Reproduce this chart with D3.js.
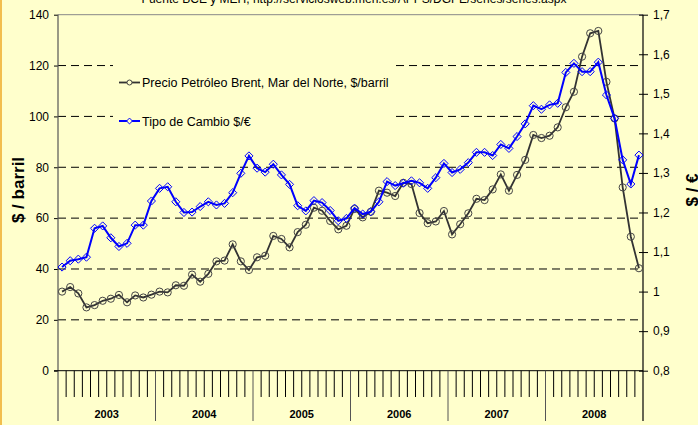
<!DOCTYPE html>
<html>
<head>
<meta charset="utf-8">
<script src="https://cdn.jsdelivr.net/npm/d3@7"></script>
<style>
  html, body { margin: 0; padding: 0; background: #FFFFCC; }
  svg { display: block; font-family: "Liberation Sans", Arial, sans-serif; }
</style>
</head>
<body>
<div id="chart"></div>
<script>
// Years on the category axis, 12 months each
const years = ['2003', '2004', '2005', '2006', '2007', '2008'];
const monthsPerYear = 12;

// Brent crude, $/barrel, monthly Jan 2003 - Dec 2008
const brent = [
  31.1, 32.9, 30.4, 24.9, 25.8, 27.5, 28.3, 29.8, 26.9, 29.6, 28.8, 29.9,
  31.1, 30.8, 33.6, 33.4, 37.8, 35.0, 38.1, 43.0, 43.3, 49.7, 43.0, 39.6,
  44.6, 45.2, 53.0, 51.8, 48.5, 54.5, 57.4, 64.1, 62.9, 58.9, 55.6, 57.0,
  63.6, 60.3, 62.5, 70.8, 70.0, 68.7, 73.9, 73.4, 62.0, 58.0, 58.7, 62.8,
  53.6, 57.6, 61.9, 67.6, 67.1, 71.3, 77.2, 70.8, 77.0, 82.9, 92.7, 91.5,
  92.4, 95.7, 103.6, 109.7, 123.5, 132.7, 133.6, 113.6, 99.2, 72.1, 52.7, 40.3
];

// Exchange rate $/€, monthly Jan 2003 - Dec 2008
const usdEur = [
  1.062, 1.078, 1.082, 1.087, 1.160, 1.166, 1.136, 1.114, 1.122, 1.168, 1.168, 1.229,
  1.261, 1.265, 1.227, 1.200, 1.201, 1.215, 1.227, 1.219, 1.223, 1.250, 1.299, 1.343,
  1.312, 1.302, 1.322, 1.295, 1.271, 1.217, 1.204, 1.230, 1.225, 1.205, 1.179, 1.185,
  1.211, 1.196, 1.202, 1.227, 1.278, 1.268, 1.274, 1.280, 1.275, 1.261, 1.288, 1.324,
  1.301, 1.309, 1.326, 1.352, 1.352, 1.344, 1.372, 1.362, 1.392, 1.424, 1.470, 1.461,
  1.472, 1.476, 1.554, 1.577, 1.556, 1.556, 1.580, 1.497, 1.438, 1.333, 1.272, 1.345
];

const leftTicks = [0, 20, 40, 60, 80, 100, 120, 140];
const rightTicks = [0.8, 0.9, 1.0, 1.1, 1.2, 1.3, 1.4, 1.5, 1.6, 1.7];
const gridValues = [20, 40, 60, 80, 100, 120];

const seriesNames = ['Precio Petróleo Brent, Mar del Norte, $/barril', 'Tipo de Cambio $/€'];
const sourceText = 'Fuente BCE y MEH, http://serviciosweb.meh.es/APPS/DGPE/series/series.aspx';

const months = [];
years.forEach(y => { for (let m = 1; m <= monthsPerYear; m++) months.push(y + '-' + m); });

const width = 698, height = 425;
const plot = { left: 58, right: 643, top: 14.7, bottom: 370.7 };

const svg = d3.select('#chart').append('svg')
  .attr('width', width)
  .attr('height', height);

svg.append('rect')
  .attr('width', width).attr('height', height)
  .attr('fill', '#FFFFCC');
svg.append('rect')
  .attr('x', 0).attr('y', 0).attr('width', 2).attr('height', height)
  .attr('fill', '#F2BE4E');

const x = d3.scaleBand()
  .domain(months)
  .range([plot.left, plot.right]);
const xYear = d3.scaleBand()
  .domain(years)
  .range([plot.left, plot.right]);
const y = d3.scaleLinear()
  .domain([0, 140])
  .range([plot.bottom, plot.top]);
const y2 = d3.scaleLinear()
  .domain([0.8, 1.7])
  .range([plot.bottom, plot.top]);

// source line, clipped at the top
svg.append('text')
  .attr('x', 354).attr('y', 3)
  .attr('text-anchor', 'middle')
  .attr('font-size', 12)
  .attr('fill', '#000')
  .text(sourceText);

// gridlines
svg.append('g')
  .selectAll('line')
  .data(gridValues)
  .join('line')
  .attr('x1', plot.left).attr('x2', plot.right)
  .attr('y1', d => y(d)).attr('y2', d => y(d))
  .attr('stroke', '#000')
  .attr('stroke-width', 1)
  .attr('stroke-dasharray', '8 5');
svg.append('line')
  .attr('x1', plot.left).attr('x2', plot.right)
  .attr('y1', y(140)).attr('y2', y(140))
  .attr('stroke', '#888')
  .attr('stroke-width', 1);

// left axis
const leftAxis = svg.append('g')
  .attr('transform', `translate(${plot.left},0)`)
  .call(d3.axisLeft(y).tickValues(leftTicks).tickSize(4).tickPadding(5));
leftAxis.select('.domain').remove();
leftAxis.selectAll('line').attr('stroke', '#000');
leftAxis.selectAll('text').attr('font-size', 12).attr('font-family', null);

// right axis
const rightAxis = svg.append('g')
  .attr('transform', `translate(${plot.right},0)`)
  .call(d3.axisRight(y2).tickValues(rightTicks).tickSize(5).tickPadding(5)
    .tickFormat(d => d3.format('.1f')(d).replace('.', ',').replace(',0', '')));
rightAxis.select('.domain').remove();
rightAxis.selectAll('.tick line').attr('stroke', '#000').attr('x1', -4);
rightAxis.selectAll('text').attr('font-size', 12).attr('font-family', null);

// vertical axis lines
svg.append('line')
  .attr('x1', plot.left).attr('x2', plot.left)
  .attr('y1', plot.top).attr('y2', 421)
  .attr('stroke', '#555').attr('stroke-width', 1.2);
svg.append('line')
  .attr('x1', plot.right).attr('x2', plot.right)
  .attr('y1', plot.top).attr('y2', 421)
  .attr('stroke', '#000').attr('stroke-width', 1.2);

// category axis
svg.append('line')
  .attr('x1', plot.left - 4).attr('x2', plot.right)
  .attr('y1', plot.bottom).attr('y2', plot.bottom)
  .attr('stroke', '#000').attr('stroke-width', 1);
svg.append('g')
  .selectAll('line')
  .data(months.slice(1))
  .join('line')
  .attr('x1', d => x(d)).attr('x2', d => x(d))
  .attr('y1', plot.bottom)
  .attr('y2', (d, i) => (i + 1) % monthsPerYear === 0 ? 421 : 397)
  .attr('stroke', (d, i) => (i + 1) % monthsPerYear === 0 ? '#555' : '#000')
  .attr('stroke-width', 1);
svg.append('g')
  .selectAll('text')
  .data(years)
  .join('text')
  .attr('x', d => xYear(d) + xYear.bandwidth() / 2)
  .attr('y', 418)
  .attr('text-anchor', 'middle')
  .attr('font-size', 11)
  .attr('font-weight', 'bold')
  .text(d => d);

// axis titles
svg.append('text')
  .attr('transform', 'translate(24,190) rotate(-90)')
  .attr('text-anchor', 'middle')
  .attr('font-size', 17)
  .attr('font-weight', 'bold')
  .text('$ / barril');
svg.append('text')
  .attr('transform', 'translate(698,190) rotate(-90)')
  .attr('text-anchor', 'middle')
  .attr('font-size', 17)
  .attr('font-weight', 'bold')
  .text('$ / €');

// legend box covers gridlines
svg.append('rect')
  .attr('x', 113).attr('y', 58).attr('width', 280).attr('height', 74)
  .attr('fill', '#FFFFCC');

const cx = d => x(d) + x.bandwidth() / 2;

// Brent line
svg.append('path')
  .datum(brent)
  .attr('fill', 'none')
  .attr('stroke', '#333')
  .attr('stroke-width', 1.8)
  .attr('d', d3.line().x((d, i) => cx(months[i])).y(d => y(d)));
svg.append('g')
  .selectAll('circle')
  .data(brent)
  .join('circle')
  .attr('cx', (d, i) => cx(months[i]))
  .attr('cy', d => y(d))
  .attr('r', 3.6)
  .attr('fill', 'none')
  .attr('stroke', '#444')
  .attr('stroke-width', 1);

// exchange rate line
const diamond = d3.symbol().type(d3.symbolDiamond2).size(42);
svg.append('path')
  .datum(usdEur)
  .attr('fill', 'none')
  .attr('stroke', '#0000FF')
  .attr('stroke-width', 2)
  .attr('d', d3.line().x((d, i) => cx(months[i])).y(d => y2(d)));
svg.append('g')
  .selectAll('path')
  .data(usdEur)
  .join('path')
  .attr('transform', (d, i) => `translate(${cx(months[i])},${y2(d)})`)
  .attr('d', diamond)
  .attr('fill', 'none')
  .attr('stroke', '#0000FF')
  .attr('stroke-width', 1);

// legend
const legendRows = [
  { name: seriesNames[0], y: 82.5, color: '#333', marker: 'circle' },
  { name: seriesNames[1], y: 121, color: '#0000FF', marker: 'diamond' }
];
legendRows.forEach(r => {
  const g = svg.append('g').attr('transform', `translate(119,${r.y})`);
  g.append('line')
    .attr('x1', 0).attr('x2', 21)
    .attr('stroke', r.color)
    .attr('stroke-width', r.marker === 'circle' ? 1.8 : 2);
  if (r.marker === 'circle') {
    g.append('circle').attr('cx', 10.5).attr('r', 2.5)
      .attr('fill', '#FFFFCC').attr('stroke', '#444');
  } else {
    g.append('path').attr('transform', 'translate(10.5,0)')
      .attr('d', d3.symbol().type(d3.symbolDiamond2).size(22))
      .attr('fill', '#FFFFCC').attr('stroke', '#0000FF');
  }
  g.append('text')
    .attr('x', 23).attr('y', 4.5)
    .attr('font-size', 12.5)
    .attr('fill', '#000')
    .text(r.name);
});
</script>
</body>
</html>
